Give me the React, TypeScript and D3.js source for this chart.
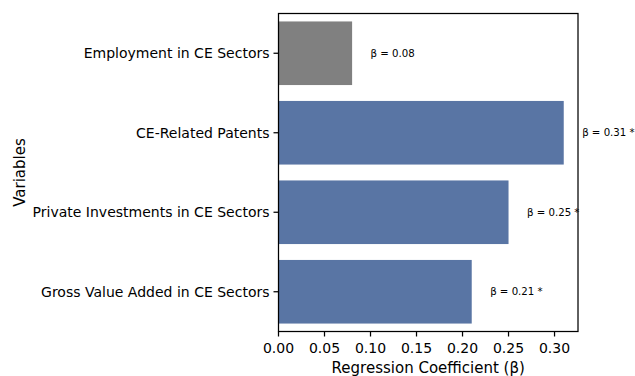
import React from "react";
import * as d3 from "d3";

const categories = [
  "Employment in CE Sectors",
  "CE-Related Patents",
  "Private Investments in CE Sectors",
  "Gross Value Added in CE Sectors",
];
const coefficients = [0.08, 0.31, 0.25, 0.21];
const significant = [false, true, true, true];
const xTicks = [0, 0.05, 0.1, 0.15, 0.2, 0.25, 0.3];

const W = 635;
const H = 376;
const margin = { left: 278.5, right: 57, top: 13.5, bottom: 44.5 };
const FONT = "DejaVu Sans, sans-serif";

export default function App() {
  const innerW = W - margin.left - margin.right;
  const innerH = H - margin.top - margin.bottom;
  const x = d3.scaleLinear().domain([0, 0.3255]).range([0, innerW]);
  const y = d3
    .scaleBand<string>()
    .domain(categories)
    .range([0, innerH])
    .paddingInner(0.2)
    .paddingOuter(0.1);

  return (
    <svg
      width={W}
      height={H}
      style={{ position: "absolute", left: 0, top: 0, background: "#fff" }}
      fontFamily={FONT}
    >
      <g transform={`translate(${margin.left},${margin.top})`}>
        {categories.map((c, i) => (
          <rect
            key={c}
            x={x(0)}
            y={y(c)!}
            width={x(coefficients[i]) - x(0)}
            height={y.bandwidth()}
            fill={significant[i] ? "#5975a4" : "#808080"}
          />
        ))}
        {categories.map((c, i) => (
          <text
            key={c + "-lbl"}
            x={x(coefficients[i] + 0.02)}
            y={y(c)! + y.bandwidth() / 2}
            fontSize={10.2}
            dominantBaseline="central"
            fill="#000"
          >
            {`β = ${coefficients[i].toFixed(2)}${significant[i] ? " *" : ""}`}
          </text>
        ))}
        <rect
          x={0}
          y={0}
          width={innerW}
          height={innerH}
          fill="none"
          stroke="#000"
          strokeWidth={1.25}
        />
        {categories.map((c) => {
          const cy = y(c)! + y.bandwidth() / 2;
          return (
            <g key={c + "-tick"}>
              <line x1={-5} x2={0} y1={cy} y2={cy} stroke="#000" strokeWidth={1.25} />
              <text
                x={-9}
                y={cy}
                fontSize={14}
                textAnchor="end"
                dominantBaseline="central"
                fill="#000"
              >
                {c}
              </text>
            </g>
          );
        })}
        {xTicks.map((t) => (
          <g key={t} transform={`translate(${x(t)},${innerH})`}>
            <line y1={0} y2={5} stroke="#000" strokeWidth={1.25} />
            <text y={16.5} fontSize={14} textAnchor="middle" dominantBaseline="central" fill="#000">
              {t.toFixed(2)}
            </text>
          </g>
        ))}
        <text
          x={innerW / 2}
          y={innerH + 36}
          fontSize={15}
          textAnchor="middle"
          dominantBaseline="central"
          fill="#000"
        >
          Regression Coefficient (β)
        </text>
      </g>
      <text
        transform={`translate(20,${margin.top + innerH / 2}) rotate(-90)`}
        fontSize={15}
        textAnchor="middle"
        dominantBaseline="central"
        fill="#000"
      >
        Variables
      </text>
    </svg>
  );
}
